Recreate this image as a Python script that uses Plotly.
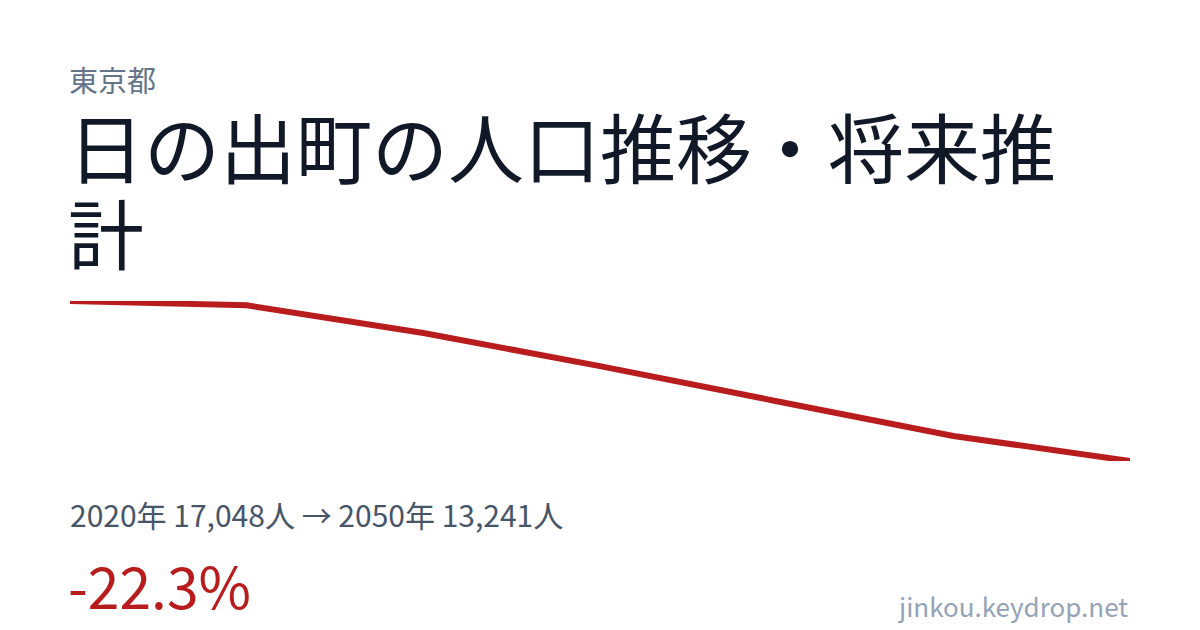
import plotly.graph_objects as go

years = [2020, 2025, 2030, 2035, 2040, 2045, 2050]
population = [17048, 16945, 16285, 15498, 14664, 13837, 13241]

prefecture = "東京都"
title_line1 = "日の出町の人口推移・将来推"
title_line2 = "計"
summary = "2020年 17,048人 → 2050年 13,241人"
change = "-22.3%"
source = "jinkou.keydrop.net"

W, H = 1200, 630
FONT = "Noto Sans CJK JP"

def py(p):
    return 1 - p / H

fig = go.Figure()
fig.add_trace(go.Scatter(
    x=years, y=population, mode="lines",
    line=dict(color="#b91c1c", width=6),
    cliponaxis=False, hoverinfo="skip", showlegend=False,
))

fig.update_layout(
    width=W, height=H,
    margin=dict(l=0, r=0, t=0, b=0),
    paper_bgcolor="white", plot_bgcolor="white",
    xaxis=dict(domain=[70 / W, 1130 / W], range=[min(years), max(years)],
               visible=False, fixedrange=True),
    yaxis=dict(domain=[py(461), py(301)], range=[min(population), max(population)],
               visible=False, fixedrange=True),
    font=dict(family=FONT),
)

def ann(text, x, y, size, color, xanchor="left"):
    fig.add_annotation(text=text, x=x / W, y=py(y), xref="paper", yref="paper",
                       xanchor=xanchor, yanchor="middle", showarrow=False,
                       font=dict(family=FONT, size=size, color=color))

ann(prefecture, 67, 79, 29, "#64748b")
ann(title_line1, 66, 145, 76, "#111827")
ann(title_line2, 66, 231, 76, "#111827")
ann(summary, 68, 514, 30, "#475569")
ann(change, 66, 584, 57, "#b91c1c")
ann(source, 1130, 605, 26, "#94a3b8", xanchor="right")

fig.write_html("out.html", config={"displayModeBar": False},
               post_script="document.body.style.margin='0';document.body.style.overflow='hidden';")
